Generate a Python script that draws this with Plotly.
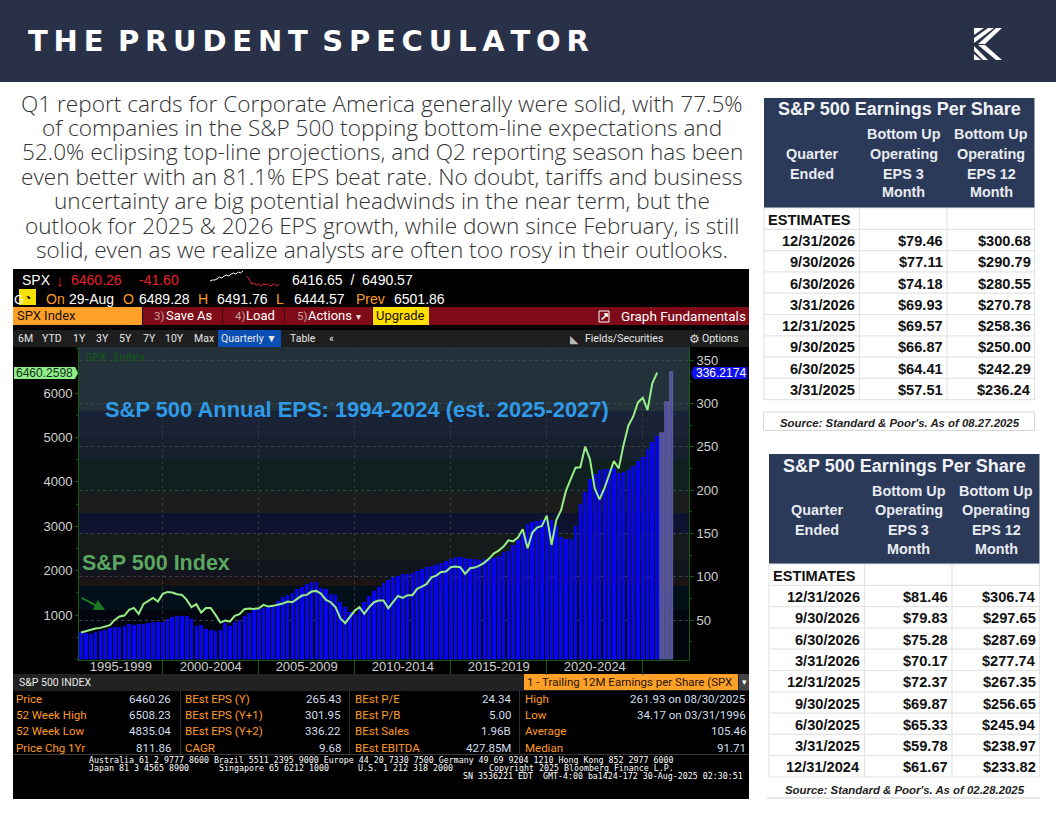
import pandas as pd
import plotly.graph_objects as go

W, H = 1056, 816

# ---------------------------------------------------------------------
# Data
# ---------------------------------------------------------------------
eps_ttm = [
    36, 35, 34.17, 35.8, 37.7, 38.5, 40.4, 41.6, 42.3, 43.5,
    45.4, 44.6, 45.4, 45.4, 46.6, 47.3, 47.3, 48.1, 51.2, 53.9,
    54.7, 55, 54.7, 51.2, 43.5, 44.3, 39.6, 38.5, 37.7, 38.5,
    46.2, 42.7, 47.3, 50, 55, 58.5, 61.6, 62.7, 63.9, 64.7,
    65.8, 71.6, 76.2, 79.3, 81.6, 85.8, 88.5, 91.6, 93.5, 94.3,
    87, 85.8, 80, 79.3, 70.4, 65.4, 58.9, 57, 62.7, 70.4,
    77.4, 83.9, 88.5, 92.4, 96.2, 100, 100.8, 103, 103.5, 103.9,
    107, 108.5, 110.8, 112.4, 113.5, 115.5, 118.5, 120, 122.4, 122.4,
    122, 120.9, 120.5, 119.3, 120.9, 121, 122, 124, 128, 130,
    136.6, 142.4, 150, 161, 163.6, 164.7, 165.5, 165.5, 165.5, 159,
    146, 143, 143, 158, 184, 198, 213, 218, 223, 224,
    224, 226, 219.5, 221, 223, 228, 233.6, 238.6, 248, 255,
    261.93,
]
eps_est = [265.43, 301.95, 336.22]
spx_close = [
    607, 638, 668, 698, 712, 742, 772, 892, 968, 990,
    1118, 1162, 1028, 1252, 1312, 1388, 1305, 1478, 1522, 1508,
    1470, 1455, 1342, 1178, 1245, 1058, 1162, 1162, 1005, 832,
    878, 855, 982, 1020, 1132, 1148, 1140, 1155, 1230, 1192,
    1208, 1230, 1260, 1305, 1290, 1365, 1440, 1455, 1530, 1545,
    1478, 1342, 1290, 1178, 930, 818, 968, 1102, 1178, 1028,
    1178, 1290, 1328, 1328, 1155, 1305, 1432, 1388, 1448, 1448,
    1590, 1642, 1702, 1852, 1890, 1972, 1980, 2078, 2092, 2078,
    1928, 2055, 2070, 2115, 2182, 2272, 2392, 2452, 2542, 2685,
    2662, 2745, 2932, 2505, 2858, 2970, 3008, 3240, 2580, 3142,
    3368, 3802, 4042, 4320, 4328, 4792, 4515, 3855, 3608, 3855,
    4155, 4470, 4305, 4830, 5265, 5468, 5790, 5895, 5618, 6218,
    6460.26,
]
spark_prev = [6, 7, 7, 8, 10, 9, 11, 12, 11, 13, 14, 13, 15, 14, 16]
spark_today = [11, 8, 3, 4, 2, 3, 1, 3, 2, 3, 1, 2, 3, 1, 3]

periods = pd.date_range("1995-09-30", periods=len(eps_ttm) + len(eps_est), freq="QE")

x_ticks = ["1997-10-25", "2002-07-01", "2007-07-01", "2012-07-01", "2017-07-01", "2022-07-01"]
x_labels = ["1995-1999", "2000-2004", "2005-2009", "2010-2014", "2015-2019", "2020-2024"]
x_breaks = ["2000-01-01", "2005-01-01", "2010-01-01", "2015-01-01", "2020-01-01", "2025-01-01"]

paragraph = [
    "Q1 report cards for Corporate America generally were solid, with 77.5%",
    "of companies in the S&P 500 topping bottom-line expectations and",
    "52.0% eclipsing top-line projections, and Q2 reporting season has been",
    "even better with an 81.1% EPS beat rate. No doubt, tariffs and business",
    "uncertainty are big potential headwinds in the near term, but the",
    "outlook for 2025 & 2026 EPS growth, while down since February, is still",
    "solid, even as we realize analysts are often too rosy in their outlooks.",
]

stat_labels = [
    ["Price", "52 Week High", "52 Week Low", "Price Chg 1Yr"],
    ["BEst EPS (Y)", "BEst EPS (Y+1)", "BEst EPS (Y+2)", "CAGR"],
    ["BEst P/E", "BEst P/B", "BEst Sales", "BEst EBITDA"],
    ["High", "Low", "Average", "Median"],
]
stat_values = [
    ["6460.26", "6508.23", "4835.04", "811.86"],
    ["265.43", "301.95", "336.22", "9.68"],
    ["24.34", "5.00", "1.96B", "427.85M"],
    ["261.93 on 08/30/2025", "34.17 on 03/31/1996", "105.46", "91.71"],
]

aug_quarters = ["12/31/2026", "9/30/2026", "6/30/2026", "3/31/2026",
                "12/31/2025", "9/30/2025", "6/30/2025", "3/31/2025"]
aug_eps3 = ["$79.46", "$77.11", "$74.18", "$69.93", "$69.57", "$66.87", "$64.41", "$57.51"]
aug_eps12 = ["$300.68", "$290.79", "$280.55", "$270.78", "$258.36", "$250.00", "$242.29", "$236.24"]

feb_quarters = ["12/31/2026", "9/30/2026", "6/30/2026", "3/31/2026", "12/31/2025",
                "9/30/2025", "6/30/2025", "3/31/2025", "12/31/2024"]
feb_eps3 = ["$81.46", "$79.83", "$75.28", "$70.17", "$72.37", "$69.87", "$65.33", "$59.78", "$61.67"]
feb_eps12 = ["$306.74", "$297.65", "$287.69", "$277.74", "$267.35", "$256.65", "$245.94", "$238.97", "$233.82"]

ARIAL = "Liberation Sans"
NARROW = "Roboto"
MONO = "DejaVu Sans Mono"
ORANGE = "#ff9a20"
NAVY = "#2c3a5a"

fig = go.Figure()


def rect(x0, y0, x1, y1, color, line=None, layer="below"):
    fig.add_shape(
        type="rect", xref="paper", yref="paper", layer=layer,
        x0=x0 / W, x1=x1 / W, y0=1 - y0 / H, y1=1 - y1 / H,
        fillcolor=color, line=dict(width=1 if line else 0, color=line or color),
    )


def poly(points, color, layer="below"):
    d = "M" + " L".join(f"{x / W:.5f},{1 - y / H:.5f}" for x, y in points) + " Z"
    fig.add_shape(type="path", xref="paper", yref="paper", path=d, layer=layer,
                  fillcolor=color, line=dict(width=0))


def txt(x, y, s, size=12, color="white", family=ARIAL, anchor="left", **font):
    fig.add_annotation(
        x=x / W, y=1 - y / H, xref="paper", yref="paper", text=s, showarrow=False,
        xanchor=anchor, yanchor="middle", borderpad=0,
        font=dict(size=size, color=color, family=family, **font),
    )


# ---------------------------------------------------------------------
# Page header and paragraph
# ---------------------------------------------------------------------
rect(0, 0, W, 82, "#283148")
txt(27, 41, "\u2009".join("THE") + "\u2002" + "\u2009".join("PRUDENT") + "\u2002" + "\u2009".join("SPECULATOR"),
    size=29, family="DejaVu Sans", weight="bold")
poly([(974, 28), (984, 28), (974, 35)], "white", "above")
poly([(974, 38), (988, 28), (994, 28), (974, 43)], "white", "above")
poly([(978, 44), (996, 28), (1002, 28), (985, 44)], "white", "above")
poly([(978, 45), (985, 45), (1002, 60), (996, 60)], "white", "above")
poly([(974, 46), (988, 60), (983, 60), (974, 51)], "white", "above")
poly([(974, 54), (981, 60), (974, 60)], "white", "above")

for i, line in enumerate(paragraph):
    txt(382, 103 + i * 24.4, line, size=22.6, color="#333333", family="Open Sans", anchor="center", weight=300)

# ---------------------------------------------------------------------
# Terminal panel chrome
# ---------------------------------------------------------------------
rect(13, 269, 749, 799, "black")
txt(21, 280, "SPX", 14)
txt(55, 280, "\u2193", 15, "#e8222e")
txt(70, 280, "6460.26", 14, "#e8222e")
txt(138, 280, "-41.60", 14, "#e8222e")
txt(291, 280, "6416.65  /  6490.57", 14)

txt(13, 299, "G", 13)
rect(19, 289, 36, 305, "#f5e000")
txt(27.5, 298, "\u25d4", 12, "black", anchor="center")
for x, s, c in [(45, "On", ORANGE), (68, "29-Aug", "white"), (122, "O", ORANGE), (138, "6489.28", "white"),
                (197, "H", ORANGE), (216, "6491.76", "white"), (275, "L", ORANGE), (293, "6444.57", "white"),
                (355, "Prev", ORANGE), (393, "6501.86", "white")]:
    txt(x, 299, s, 14, c)

rect(143, 307, 749, 325, "#7f0a18")
rect(13, 307, 142, 325, "#ffa028")
rect(373, 307, 429, 325, "#ffe000")
for x in [222, 284, 372]:
    rect(x, 307, x + 1, 325, "#4a060e")
txt(16, 316, "SPX Index", 13, "#1a1200", NARROW)
for num_x, num, lab_x, lab in [(153, "3)", 165, "Save As"), (234, "4)", 245, "Load"), (296, "5)", 307, "Actions")]:
    txt(num_x, 316, num, 11.5, "#c8a0a0", NARROW)
    txt(lab_x, 316, lab, 13, "white", NARROW)
txt(355, 317, "\u25be", 10, "#dddddd")
txt(375, 316, "Upgrade", 13, "#1a1200", NARROW)
txt(620, 316, "Graph Fundamentals", 13.5, "white", NARROW)
rect(599, 311, 609, 322, "#7f0a18", line="white")
txt(604, 316, "\u2197", 11, "white", anchor="center", weight="bold")

rect(13, 330, 749, 347, "#1e1e1e")
rect(218, 330, 281, 347, "#0a50b4")
for x, s in [(25, "6M"), (52, "YTD"), (79, "1Y"), (102, "3Y"), (125, "5Y"), (149, "7Y"), (174, "10Y"),
             (204, "Max"), (249, "Quarterly \u25bc"), (303, "Table"), (331, "\u00ab")]:
    txt(x, 338.5, s, 10.5, "#e6e6e6", NARROW, anchor="center")
txt(584, 338.5, "Fields/Securities", 10.5, "#e6e6e6", NARROW)
txt(569, 338.5, "\u25e3", 11, "#bbbbbb")
txt(688, 338.5, "\u2699", 12, "#dddddd")
txt(701, 338.5, "Options", 10.5, "#e6e6e6", NARROW)

# ---------------------------------------------------------------------
# Chart background bands
# ---------------------------------------------------------------------
band_edges = [347, 411, 437, 460, 493, 513, 533, 560, 578, 586, 610, 659]
band_colors = ["#23323a", "#1a2236", "#17202e", "#10201e", "#1c1c1c", "#0e1430",
               "#151b1a", "#12141e", "#1a1412", "#03101a", "#03060e"]
for top, bottom, color in zip(band_edges[:-1], band_edges[1:], band_colors):
    rect(79, top, 689, bottom, color)

# ---------------------------------------------------------------------
# Traces
# ---------------------------------------------------------------------
fig.add_trace(go.Bar(
    x=periods[:len(eps_ttm)], y=eps_ttm, width=6e9,
    marker=dict(color="#0606e8", line=dict(width=0)),
))
fig.add_trace(go.Bar(
    x=periods[len(eps_ttm):], y=eps_est, width=6e9,
    marker=dict(color="#50509e", line=dict(width=0.6, color="#7a7ab4")),
))
fig.add_trace(go.Scatter(
    x=periods[:len(spx_close)], y=spx_close, yaxis="y2", mode="lines",
    line=dict(color="#98ee88", width=2),
))
fig.add_trace(go.Scatter(
    y=spark_prev, xaxis="x2", yaxis="y3", mode="lines", line=dict(color="white", width=1),
))
fig.add_trace(go.Scatter(
    y=spark_today, xaxis="x3", yaxis="y3", mode="lines", line=dict(color="#e8222e", width=1),
))

GRID = "#404040"
AXIS = "#125c12"
fig.update_layout(
    width=W, height=H, margin=dict(l=0, r=0, t=0, b=0),
    paper_bgcolor="white", plot_bgcolor="#03060e", showlegend=False, bargap=0,
    xaxis=dict(
        domain=[79 / W, 689 / W], range=["1995-08-21", "2027-05-29"], type="date",
        tickvals=x_ticks, ticktext=x_labels, ticklen=0, ticklabelstandoff=-5,
        tickfont=dict(family=ARIAL, size=13, color="#d0d0d0"),
        showgrid=False, showline=True, linecolor=AXIS, zeroline=False,
        minor=dict(tickvals=x_breaks, ticklen=14, tickcolor=AXIS, ticks="outside",
                   showgrid=True, griddash="dot", gridcolor="#363636", gridwidth=1),
    ),
    yaxis=dict(
        domain=[1 - 659.5 / H, 1 - 347 / H], side="right", anchor="x", range=[4.4, 365.2],
        tickvals=[50, 100, 150, 200, 250, 300, 350],
        tickfont=dict(family=ARIAL, size=13, color="#d0d0d0"),
        ticks="outside", ticklen=4, tickcolor=AXIS,
        showgrid=True, griddash="dot", gridcolor=GRID, gridwidth=1,
        showline=True, linecolor=AXIS, zeroline=False,
        minor=dict(dtick=25, ticks="outside", ticklen=2, tickcolor=AXIS, showgrid=False),
    ),
    yaxis2=dict(
        domain=[1 - 659.5 / H, 1 - 347 / H], overlaying="y", side="left", anchor="x", range=[0, 7038],
        tickvals=[1000, 2000, 3000, 4000, 5000, 6000],
        tickfont=dict(family=ARIAL, size=13, color="#d0d0d0"),
        ticks="outside", ticklen=3, tickcolor=AXIS,
        showgrid=False, showline=True, linecolor=AXIS, zeroline=False,
        minor=dict(dtick=500, ticks="outside", ticklen=2, tickcolor=AXIS, showgrid=False),
    ),
    xaxis2=dict(domain=[210 / W, 243 / W], anchor="y3", visible=False),
    xaxis3=dict(domain=[247 / W, 279 / W], anchor="y3", visible=False),
    yaxis3=dict(domain=[1 - 287 / H, 1 - 270 / H], anchor="x2", visible=False, range=[0, 17]),
)

# chart labels
txt(85, 357, "SPX Index", 11, "#0d5c12", "DejaVu Sans Mono")
txt(104, 409, "S&P 500 Annual EPS: 1994-2024 (est. 2025-2027)", 21.9, "#2f9be8", weight="bold")
txt(81, 563, "S&P 500 Index", 21.5, "#5aa860", weight="bold")
fig.add_annotation(
    x=105 / W, y=1 - 610 / H, xref="paper", yref="paper", showarrow=True, text="",
    ax=-25, ay=-13, axref="pixel", ayref="pixel",
    arrowcolor="#1c7a22", arrowwidth=2, arrowhead=2, arrowsize=1.1,
)

# last-value tags
poly([(14, 367), (75, 367), (78, 373), (75, 379), (14, 379)], "#90ee88", "above")
txt(15, 373, "6460.2598", 12, "#14301a")
poly([(694, 367), (747, 367), (747, 379), (694, 379), (691, 373)], "#1010ee", "above")
txt(695, 373, "336.2174", 12, "white")

# ---------------------------------------------------------------------
# Stats block
# ---------------------------------------------------------------------
rect(13, 674, 749, 691, "#222222")
txt(18, 682, "S&P 500 INDEX", 10.5, "#e8e8e8", NARROW)
rect(524, 674, 738, 690, "#ffa028")
rect(739, 674, 749, 690, "#444444")
txt(526, 682, "1 - Trailing 12M Earnings per Share (SPX", 11.5, "#241500", NARROW)
txt(744, 682, "\u25be", 9, "white", anchor="center")
for x in [180, 349, 519]:
    rect(x, 691, x + 1, 754, "#2e2e2e")
rect(13, 754, 749, 755, "#3a3a3a")

row_y = [699, 715, 731, 747.5]
label_x = [15, 184, 354, 524]
value_x = [172, 342, 512, 747]
for labels, values, lx, vx in zip(stat_labels, stat_values, label_x, value_x):
    for label, value, y in zip(labels, values, row_y):
        txt(lx, y, label, 11.5, ORANGE, NARROW)
        txt(vx, y, value, 11.5, "#d2def0", NARROW, anchor="right")

txt(88, 760, "Australia 61 2 9777 8600 Brazil 5511 2395 9000 Europe 44 20 7330 7500 Germany 49 69 9204 1210 Hong Kong 852 2977 6000", 8.3, family=MONO)
for x, s in [(88, "Japan 81 3 4565 8900"), (218, "Singapore 65 6212 1000"), (357, "U.S. 1 212 318 2000"),
             (488, "Copyright 2025 Bloomberg Finance L.P.")]:
    txt(x, 768, s, 8.3, family=MONO)
txt(462, 775.5, "SN 3536221 EDT  GMT-4:00 ba1424-172 30-Aug-2025 02:30:51", 8.3, family=MONO)


# ---------------------------------------------------------------------
# EPS tables
# ---------------------------------------------------------------------
def eps_table(left, top, quarters, eps3, eps12, source, source_y):
    right = left + 270.5
    col1 = left + 95.5
    col2 = left + 183
    head_bottom = top + 110
    row_h = 21.3
    n_rows = len(quarters) + 1
    bottom = head_bottom + n_rows * row_h

    rect(left, top, right, head_bottom, NAVY)
    for i in range(n_rows + 1):
        y = head_bottom + i * row_h
        rect(left, y - 0.6, right, y + 0.6, "#e4e4e4")
    for x in [left, col1, col2, right]:
        rect(x - 0.6, head_bottom, x + 0.6, bottom, "#e4e4e4")

    txt(left + 135, top + 11.5, "S&P 500 Earnings Per Share", 18, "#f0f2f6", anchor="center", weight="bold")
    for off, a, b in [(36.5, None, "Bottom Up"), (56, "Quarter", "Operating"), (75.5, "Ended", "EPS 3"), (94.5, None, "Month")]:
        if a:
            txt(left + 48, top + off, a, 14.4, "#e8ebf0", anchor="center", weight="bold")
        txt(left + 139.5, top + off, b, 14.4, "#e8ebf0", anchor="center", weight="bold")
        c = {"EPS 3": "EPS 12"}.get(b, b)
        txt(left + 227, top + off, c, 14.4, "#e8ebf0", anchor="center", weight="bold")

    txt(left + 3, head_bottom + 11.5, "ESTIMATES", 14.6, "#111111", weight="bold")
    for i, (q, e3, e12) in enumerate(zip(quarters, eps3, eps12)):
        y = head_bottom + 33 + i * row_h
        txt(col1 - 3.5, y, q, 14.6, "#111111", anchor="right", weight="bold")
        txt(col2 - 3.5, y, e3, 14.6, "#111111", anchor="right", weight="bold")
        txt(right - 3, y, e12, 14.6, "#111111", anchor="right", weight="bold")

    txt(left + 135.5, source_y, source, 11.4, "#222222", anchor="center", weight="bold", style="italic")


eps_table(764, 98, aug_quarters, aug_eps3, aug_eps12, "Source: Standard & Poor's. As of 08.27.2025", 422.5)
rect(763.5, 412, 1034.5, 430.5, "rgba(0,0,0,0)", line="#d8d8d8")
eps_table(769, 454, feb_quarters, feb_eps3, feb_eps12, "Source: Standard & Poor's. As of 02.28.2025", 789.5)
rect(767, 797.5, 1040, 798.5, "#d0d0d0")

fig.write_html("out.html", post_script="document.body.style.margin='0';", config=dict(displayModeBar=False))
